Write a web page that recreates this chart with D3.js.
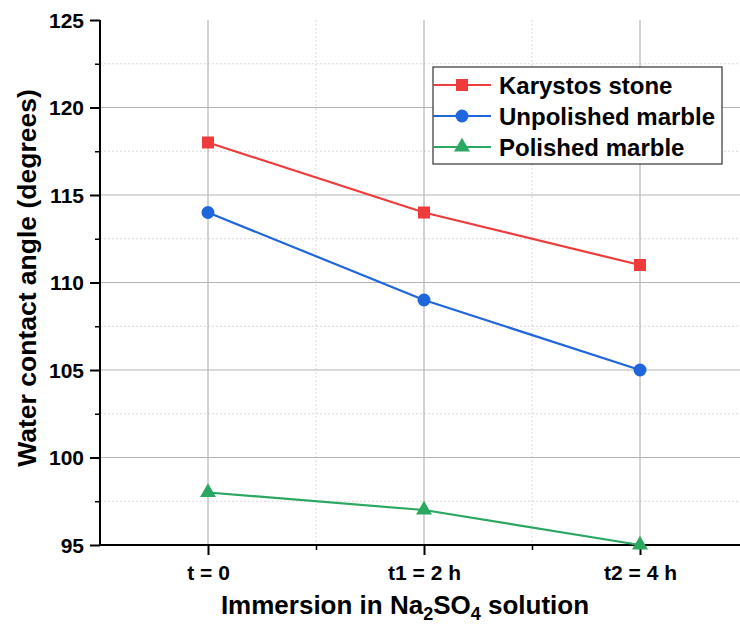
<!DOCTYPE html>
<html><head><meta charset="utf-8">
<script src="https://cdn.jsdelivr.net/npm/d3@7"></script>
<style>body{margin:0;background:#fff;} text{font-family:"Liberation Sans",Arial,sans-serif;}</style>
</head><body><svg id="c" width="740" height="635"></svg>
<script>
const categories = ["t = 0", "t1 = 2 h", "t2 = 4 h"];
const seriesNames = ["Karystos stone", "Unpolished marble", "Polished marble"];
const karystos = [118, 114, 111];
const unpolished = [114, 109, 105];
const polished = [98, 97, 95];
const yTicks = [95, 100, 105, 110, 115, 120, 125];
const colors = ["#ef3b3b", "#1f66dc", "#2aa760"];
const markers = ["square", "circle", "triangle"];
const series = [karystos, unpolished, polished];

const svg = d3.select("#c");
const x = d3.scaleLinear().domain([-0.5, 2.5]).range([100, 748]);
const y = d3.scaleLinear().domain([95, 125]).range([545, 20]);

const g = svg.append("g");
const minorY = d3.range(97.5, 125, 5);
g.selectAll(".mny").data(minorY).enter().append("line")
  .attr("x1", 100).attr("x2", 740).attr("y1", d => y(d)).attr("y2", d => y(d))
  .attr("stroke", "#d8d8d8").attr("stroke-width", 1).attr("stroke-dasharray", "2,2");
const minorX = [0.5, 1.5];
g.selectAll(".mnx").data(minorX).enter().append("line")
  .attr("x1", d => x(d)).attr("x2", d => x(d)).attr("y1", 20).attr("y2", 545)
  .attr("stroke", "#d8d8d8").attr("stroke-width", 1).attr("stroke-dasharray", "2,2");
g.selectAll(".mjy").data(yTicks.filter(d => d > 95 && d < 125)).enter().append("line")
  .attr("x1", 100).attr("x2", 740).attr("y1", d => y(d)).attr("y2", d => y(d))
  .attr("stroke", "#b4b4b4").attr("stroke-width", 1.2);
g.selectAll(".mjx").data(categories).enter().append("line")
  .attr("x1", (d, i) => x(i)).attr("x2", (d, i) => x(i)).attr("y1", 20).attr("y2", 545)
  .attr("stroke", "#b4b4b4").attr("stroke-width", 1.2);

const yAxis = d3.axisLeft(y).tickValues(yTicks).tickSize(10).tickPadding(6);
const ya = svg.append("g").attr("transform", "translate(100,0)").call(yAxis);
ya.select(".domain").attr("stroke", "#000").attr("stroke-width", 2).attr("d", "M0,20V545");
ya.selectAll(".tick line").attr("stroke", "#000").attr("stroke-width", 2);
ya.selectAll(".tick text").attr("font-size", 21).attr("font-weight", "bold").attr("fill", "#000").attr("dy", "0.35em");
const yMinor = d3.axisLeft(y).tickValues(minorY).tickSize(5).tickFormat("");
const ym = svg.append("g").attr("transform", "translate(100,0)").call(yMinor);
ym.select(".domain").remove();
ym.selectAll(".tick line").attr("stroke", "#000").attr("stroke-width", 1.5);

const xAxis = d3.axisBottom(x).tickValues([0, 1, 2]).tickFormat(i => categories[i]).tickSize(10).tickPadding(10);
const xa = svg.append("g").attr("transform", "translate(0,545)").call(xAxis);
xa.select(".domain").attr("stroke", "#000").attr("stroke-width", 2).attr("d", "M100,0H740");
xa.selectAll(".tick line").attr("stroke", "#000").attr("stroke-width", 2);
xa.selectAll(".tick text").attr("font-size", 21).attr("font-weight", "bold").attr("fill", "#000");
const xMinor = d3.axisBottom(x).tickValues(minorX).tickSize(5).tickFormat("");
const xm = svg.append("g").attr("transform", "translate(0,545)").call(xMinor);
xm.select(".domain").remove();
xm.selectAll(".tick line").attr("stroke", "#000").attr("stroke-width", 1.5);

const xt = svg.append("text").attr("x", 405).attr("y", 614).attr("text-anchor", "middle")
  .attr("font-size", 26).attr("font-weight", "bold").attr("fill", "#000");
xt.append("tspan").text("Immersion in Na");
xt.append("tspan").text("2").attr("font-size", 18).attr("dy", 6);
xt.append("tspan").text("SO").attr("dy", -6);
xt.append("tspan").text("4").attr("font-size", 18).attr("dy", 6);
xt.append("tspan").text(" solution").attr("dy", -6);
svg.append("text").attr("transform", "translate(36,278) rotate(-90)").attr("text-anchor", "middle")
  .attr("font-size", 26.5).attr("font-weight", "bold").attr("fill", "#000")
  .text("Water contact angle (degrees)");

function drawMarker(sel, type, color) {
  if (type === "square") sel.append("rect").attr("x", -6).attr("y", -6).attr("width", 12).attr("height", 12).attr("fill", color);
  else if (type === "circle") sel.append("circle").attr("r", 6.5).attr("fill", color);
  else sel.append("path").attr("d", d3.symbol().type(d3.symbolTriangle).size(110)()).attr("fill", color);
}

const line = d3.line().x((d, i) => x(i)).y(d => y(d));
series.forEach((vals, si) => {
  svg.append("path").datum(vals).attr("d", line).attr("fill", "none")
    .attr("stroke", colors[si]).attr("stroke-width", 2.2);
  vals.forEach((v, i) => {
    const m = svg.append("g").attr("transform", `translate(${x(i)},${y(v)})`);
    drawMarker(m, markers[si], colors[si]);
  });
});

const lg = svg.append("g").attr("transform", "translate(433,67)");
lg.append("rect").attr("width", 289).attr("height", 97).attr("fill", "#fff").attr("stroke", "#333").attr("stroke-width", 1.2);
seriesNames.forEach((n, i) => {
  const yy = 18 + i * 31;
  lg.append("line").attr("x1", 0).attr("x2", 58).attr("y1", yy).attr("y2", yy).attr("stroke", colors[i]).attr("stroke-width", 2.2);
  const m = lg.append("g").attr("transform", `translate(29,${yy})`);
  drawMarker(m, markers[i], colors[i]);
  lg.append("text").attr("x", 66).attr("y", yy).attr("dy", "0.36em").attr("font-size", 24)
    .attr("font-weight", "bold").attr("fill", "#000").text(n);
});
</script></body></html>
